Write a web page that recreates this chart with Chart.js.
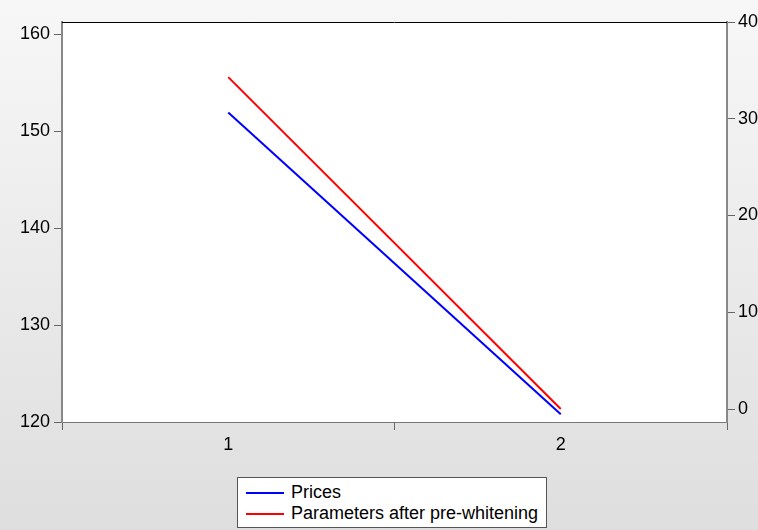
<!DOCTYPE html>
<html lang="en">
<head>
    <meta charset="UTF-8">
    <title>Prices vs parameters</title>
    <style>
        html, body { margin: 0; padding: 0; overflow: hidden; }
        body { width: 758px; height: 530px; background: linear-gradient(#f7f7f7, #dedede); font-family: "Liberation Sans", Arial, sans-serif; position: relative; }
        #wrap { position: absolute; left: 0; top: 0; width: 758px; height: 530px; }
        #legend { position: absolute; left: 237px; top: 477px; width: 310px; height: 51px; box-sizing: border-box; border: 1px solid #555; background: #fff; font-size: 18px; color: #000; }
        .item { position: absolute; left: 8px; height: 21px; line-height: 21px; white-space: nowrap; }
        .item span { display: inline-block; width: 38px; height: 2px; vertical-align: middle; margin-right: 7px; }
    </style>
</head>
<body>
    <div id="wrap"><canvas id="chart" width="758" height="530"></canvas></div>
    <div id="legend">
        <div class="item" style="top:4px"><span style="background:#0000ff"></span>Prices</div>
        <div class="item" style="top:25px"><span style="background:#ff0000"></span>Parameters after pre-whitening</div>
    </div>
    <script src="https://cdn.jsdelivr.net/npm/chart.js@4/dist/chart.umd.min.js"></script>
    <script>
        const labels = ['1', '2'];
        const prices = [151.9, 120.8];
        const params = [34.3, 0.0];
        const leftTicks = [120, 130, 140, 150, 160];
        const rightTicks = [0, 10, 20, 30, 40];

        // white plot area and black top border
        const frame = {
            id: 'frame',
            beforeDraw(chart) {
                const { ctx, chartArea: a } = chart;
                ctx.save();
                ctx.fillStyle = '#fff';
                ctx.fillRect(a.left, a.top, a.right - a.left, a.bottom - a.top);
                ctx.restore();
            },
            afterDraw(chart) {
                const { ctx, chartArea: a } = chart;
                ctx.save();
                ctx.strokeStyle = '#000';
                ctx.lineWidth = 1;
                ctx.beginPath();
                ctx.moveTo(a.left, a.top + 0.5);
                ctx.lineTo(a.right, a.top + 0.5);
                ctx.stroke();
                ctx.restore();
            }
        };

        const tickFont = { family: '"Liberation Sans", Arial, sans-serif', size: 18 };

        new Chart(document.getElementById('chart'), {
            type: 'line',
            data: {
                labels,
                datasets: [
                    { label: 'Prices', data: prices, borderColor: '#0000ff', borderWidth: 2, pointRadius: 0, yAxisID: 'y' },
                    { label: 'Parameters after pre-whitening', data: params, borderColor: '#ff0000', borderWidth: 2, pointRadius: 0, yAxisID: 'y1' }
                ]
            },
            options: {
                responsive: false,
                animation: false,
                layout: { padding: { top: 22, left: 0, right: 0, bottom: 0 } },
                plugins: { legend: { display: false }, tooltip: { enabled: false } },
                scales: {
                    x: {
                        offset: true,
                        grid: { offset: true, drawOnChartArea: false, tickLength: 8, color: '#666' },
                        border: { color: '#777', width: 1 },
                        ticks: { font: tickFont, color: '#000', padding: 4 },
                        afterFit(s) { s.height = 108; }
                    },
                    y: {
                        position: 'left',
                        min: 120, max: 161.24,
                        grid: { drawOnChartArea: false, tickLength: 8, color: '#666' },
                        border: { color: '#888', width: 2 },
                        ticks: { font: tickFont, color: '#000', padding: 4, stepSize: 10, includeBounds: false },
                        afterBuildTicks(s) { s.ticks = leftTicks.map(v => ({ value: v })); },
                        afterFit(s) { s.width = 62; }
                    },
                    y1: {
                        position: 'right',
                        min: -1.34, max: 40,
                        grid: { drawOnChartArea: false, tickLength: 8, color: '#666' },
                        border: { color: '#888', width: 2 },
                        ticks: { font: tickFont, color: '#000', padding: 3, stepSize: 10, includeBounds: false },
                        afterBuildTicks(s) { s.ticks = rightTicks.map(v => ({ value: v })); },
                        afterFit(s) { s.width = 31; }
                    }
                }
            },
            plugins: [frame]
        });
    </script>
</body>
</html>
